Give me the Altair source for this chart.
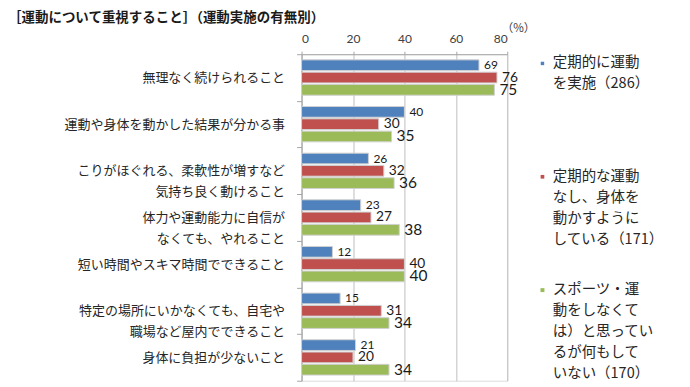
import altair as alt
import pandas as pd

# ---- data ----
categories = [
    ["無理なく続けられること"],
    ["運動や身体を動かした結果が分かる事"],
    ["こりがほぐれる、柔軟性が増すなど", "気持ち良く動けること"],
    ["体力や運動能力に自信が", "なくても、やれること"],
    ["短い時間やスキマ時間でできること"],
    ["特定の場所にいかなくても、自宅や", "職場など屋内でできること"],
    ["身体に負担が少ないこと"],
]
series = [
    ["定期的に運動", "を実施（286）"],
    ["定期的な運動", "なし、身体を", "動かすように", "している（171）"],
    ["スポーツ・運", "動をしなくて", "は）と思ってい", "るが何もして", "いない（170）"],
]
blue = [69, 40, 26, 23, 12, 15, 21]
red = [76, 30, 32, 27, 40, 31, 20]
green = [75, 35, 36, 38, 40, 34, 34]
colors = ["#4F81BD", "#C0504D", "#9BBB59"]
x_ticks = [0, 20, 40, 60, 80]
title_text = "［運動について重視すること］（運動実施の有無別）"

CJK = "Noto Sans CJK JP"
NUM = "Lato"
LABEL_DY = -7  # shared guide-label shift (legend label first line centred on symbol)


def center_lines(lines):
    # Excel centres the lines of a wrapped label; pad shorter lines to mimic that
    m = max(len(s) for s in lines)
    out = []
    for s in lines:
        d = m - len(s)
        out.append(s + "\u3000" * (d // 2) + ("\u2002" if d % 2 else ""))
    return "\n".join(out)


cat_keys = [center_lines(c) for c in categories]
series_keys = ["\n".join(s) for s in series]

rows = []
for vals, sk in zip([blue, red, green], series_keys):
    for ck, v in zip(cat_keys, vals):
        rows.append({"cat": ck, "series": sk, "value": v})
df = pd.DataFrame(rows)

split_expr = "split(datum.label, '\\n')"

base = alt.Chart(df).encode(
    y=alt.Y(
        "cat:N",
        sort=cat_keys,
        scale=alt.Scale(paddingInner=0, paddingOuter=0),
        axis=alt.Axis(
            title=None,
            labelExpr=split_expr,
            labelFont=CJK,
            labelFontSize=13,
            labelColor="#262626",
            labelLineHeight=21,
            labelPadding=12,
            labelOffset=-LABEL_DY,
            labelLimit=0,
            tickSize=5,
            tickBand="extent",
            tickColor="#a6a6a6",
            domainColor="#a6a6a6",
            grid=False,
        ),
    ),
    yOffset=alt.YOffset(
        "series:N",
        sort=series_keys,
        scale=alt.Scale(paddingInner=0.13, paddingOuter=0.46),
    ),
    x=alt.X(
        "value:Q",
        scale=alt.Scale(domain=[0, 80], nice=False),
        axis=alt.Axis(
            orient="top",
            values=x_ticks,
            grid=True,
            gridColor="#bfbfbf",
            tickSize=3,
            tickColor="#a6a6a6",
            domainColor="#a6a6a6",
            labelFont=NUM,
            labelFontSize=12,
            labelColor="#404040",
            labelPadding=6 + LABEL_DY,
            title="（%）",
            titleFont=CJK,
            titleFontSize=11.5,
            titleFontWeight="normal",
            titleColor="#404040",
            titleX=200,
            titleY=-26,
            titleAlign="left",
            titleBaseline="middle",
            titleAngle=0,
        ),
    ),
)

bars = base.mark_bar(stroke="#d0d0d0", strokeWidth=1).encode(
    color=alt.Color(
        "series:N",
        sort=series_keys,
        scale=alt.Scale(domain=series_keys, range=colors),
        legend=alt.Legend(
            title=None,
            orient="none",
            legendX=234,
            legendY=2,
            direction="vertical",
            symbolType="square",
            symbolSize=64,
            symbolStrokeWidth=0,
            labelExpr=split_expr,
            labelFont=CJK,
            labelFontSize=14.5,
            labelColor="#262626",
            labelOffset=3,
            labelBaseline="top",
            labelLimit=0,
            rowPadding=14.5,
            gridAlign="all",
            padding=0,
        ),
    ),
)

labels = base.mark_text(
    align="left", baseline="middle", dx=5, font=NUM, color="#1a1a1a"
).encode(
    text=alt.Text("value:Q"),
    size=alt.Size(
        "series:N",
        sort=series_keys,
        scale=alt.Scale(domain=series_keys, range=[12, 15.5, 15.5]),
        legend=None,
    ),
)

chart = (
    alt.layer(bars, labels)
    .properties(
        width=206,
        height=327,
        title=alt.TitleParams(
            title_text,
            anchor="start",
            frame="group",
            dx=-294,
            dy=6,
            font=CJK,
            fontSize=13.5,
            fontWeight="bold",
            color="#1a1a1a",
        ),
        padding={"left": 294, "top": 46, "right": 175, "bottom": 6},
        autosize=alt.AutoSizeParams(type="none"),
        background="white",
    )
    .configure_view(stroke="#bfbfbf")
    .configure(style={"guide-label": {"dy": LABEL_DY, "lineHeight": 21}})
)

chart.save("out.html", embed_options={"renderer": "svg", "actions": False})
